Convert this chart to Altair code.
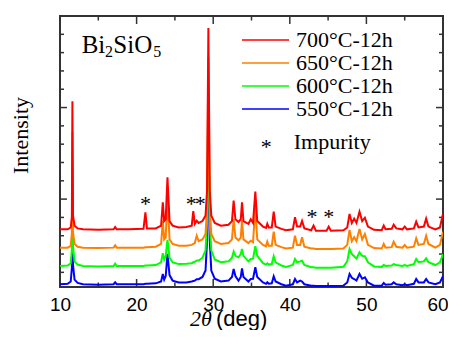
import altair as alt
import pandas as pd

# ---------------- data ----------------
two_theta = [10.0, 11.0, 11.4, 11.55, 11.62, 11.7, 11.9, 12.3, 13.0, 15.0, 17.0, 17.2, 17.4,
             19.0, 20.9, 21.15, 21.35, 22.5, 23.2, 23.42, 23.6, 23.8, 24.03, 24.3, 24.7, 25.5,
             26.5, 27.2, 27.4, 27.6, 27.85, 28.1, 28.6, 29.0, 29.2, 29.37, 29.55, 29.75, 30.2,
             31.0, 32.0, 32.45, 32.67, 32.9, 33.3, 33.6, 33.76, 33.95, 34.6, 34.9, 35.2, 35.5,
             35.75, 36.5, 36.9, 37.06, 37.25, 37.65, 37.9, 38.15, 38.9, 39.5, 40.4, 40.68, 40.95,
             41.35, 41.6, 41.9, 42.8, 43.1, 43.4, 44.8, 45.08, 45.35, 47.0, 47.5, 47.8, 48.1,
             48.4, 48.7, 49.1, 49.45, 49.8, 50.2, 51.0, 52.0, 52.26, 52.5, 53.3, 53.56, 53.9,
             54.7, 55.0, 55.3, 56.2, 56.5, 56.8, 57.5, 57.8, 58.1, 59.0, 59.6, 60.0]

i700 = [67, 67, 69, 80, 207, 82, 71, 68, 67, 66.5, 67, 69.5, 67,
        67, 67.5, 85.6, 68, 68, 71, 96.6, 76, 78, 123.9, 76, 71, 69,
        69.5, 71, 87, 73, 76.5, 74, 76, 82, 110, 287, 110, 82, 74,
        71, 72, 76, 98.3, 78, 75, 78, 96.6, 76, 73, 78, 74, 108.2,
        76, 70, 68.5, 73, 69, 69, 86.3, 70, 67.5, 66, 67, 80.2, 70,
        70, 76.1, 68, 66, 71, 65.5, 65.5, 70, 65.5, 66, 69, 83.8, 74,
        78.7, 74, 86.3, 76, 79.7, 70, 66.5, 66, 71, 67, 67.5, 72, 68,
        67, 70, 67, 68, 75.4, 69, 70, 78.7, 70, 67, 69, 84]

i650 = [47, 47, 49, 62, 173, 64, 51, 48, 47, 46.5, 47, 49.5, 47,
        47, 47, 47.5, 47.5, 48, 51, 76.5, 56, 58, 102, 56, 51, 49,
        49, 50, 51, 52, 60.1, 54, 56, 62, 90, 255, 90, 62, 54,
        51, 52, 56, 78.3, 58, 55, 58, 76.9, 56, 52, 54.6, 53, 91.1,
        56, 50, 48.5, 53.5, 49, 49, 64.4, 50, 47.5, 46, 47, 60.1, 50,
        50, 58.3, 48, 46, 46, 45.5, 45.5, 45.5, 45.5, 46, 50, 66.3, 54,
        58.3, 54, 67.4, 56, 61.9, 50, 46.5, 46, 51, 47, 47.5, 53.5, 48,
        47, 49.9, 47, 48, 57.2, 50, 51, 60.1, 51, 47, 50, 64.4]

i600 = [27, 27.5, 30, 45, 136, 48, 32, 28.5, 27, 26.5, 27, 29.5, 27,
        27, 27, 27.5, 27.5, 28, 31, 40.8, 34, 38, 55.4, 36, 31, 29,
        29.5, 30, 31, 31.5, 33, 33, 36, 44, 75, 218, 75, 44, 34,
        31, 32, 36, 42.6, 38, 36.4, 40, 45.5, 38, 32, 34.6, 35, 48.5,
        38, 30, 28.5, 29.9, 28.5, 29, 37.6, 31, 27.5, 26, 28, 34.6, 31,
        32, 32.7, 28, 25.5, 25.5, 25, 25, 25, 25, 26, 32, 45.5, 40,
        37.6, 35, 41.9, 38, 37.6, 31, 26.5, 26, 28, 27, 27.5, 29.1, 28,
        27, 28, 27, 29, 34.6, 31, 32, 35.4, 31, 28, 31, 40]

i550 = [7, 7.5, 10, 25, 77, 28, 12, 8.5, 7, 6.5, 7, 9, 7,
        7, 7, 7.5, 7.5, 8, 10, 18.2, 12, 16, 40.1, 17, 11, 9,
        9, 10, 10.5, 11, 12.5, 12.5, 15, 22, 55, 190, 55, 22, 13,
        10, 11, 15, 23.7, 16, 10.9, 15, 24.4, 15, 10, 12.7, 13, 25.5,
        15, 9, 7.5, 9.1, 7.5, 8, 15.7, 10, 7, 5.5, 7, 12.7, 9,
        10.9, 10, 7, 5.5, 5.5, 5, 5, 5, 5, 5.5, 9, 18.2, 14,
        12.7, 11, 18.2, 13, 14.6, 9, 5.5, 5.5, 8.4, 6.5, 7, 9.1, 7,
        6, 7, 6, 7.5, 12.7, 9, 9, 12.7, 9, 7, 9, 15.7]

series_names = ["700°C-12h", "650°C-12h", "600°C-12h", "550°C-12h"]
series_colors = ["#ff0000", "#ff8000", "#00ff00", "#0000ff"]
series_values = [i700, i650, i600, i550]

star_x = [21.15, 27.15, 28.3, 42.9, 45.1]
star_y = [100, 100, 100, 86, 86]

x_major = [10, 20, 30, 40, 50, 60]
x_minor = [15, 25, 35, 45, 55]
y_major = [100, 200, 300]
y_minor = [20, 40, 60, 80, 120, 140, 160, 180, 220, 240, 260, 280]

# ---------------- chart ----------------
W, H = 383, 271
SERIF = "Liberation Serif"
SANS = "Liberation Sans"

x_scale = alt.Scale(domain=[10, 60], nice=False, zero=False)
y_scale = alt.Scale(domain=[4, 300], nice=False, zero=False)
x_axis = alt.Axis(values=x_major, labelFont=SANS, labelFontSize=19, labelColor="black",
                  ticks=False, domain=False, grid=False, labelPadding=8, title=None,
                  labelFlush=False,
                  labelOffset=alt.condition("datum.value == 60", alt.value(-5.5), alt.value(0)))
y_axis = alt.Axis(labels=False, ticks=False, domain=False, grid=False, title="Intensity",
                  titleFont=SERIF, titleFontSize=22, titleFontWeight="normal", titleColor="black",
                  titleAngle=270, titleX=-33, titleY=119, titleAlign="center",
                  titleBaseline="alphabetic")
color_enc = alt.Color(
    "sample:N",
    scale=alt.Scale(domain=series_names, range=series_colors),
    legend=alt.Legend(orient="none", legendX=181, legendY=12.5, title=None,
                      symbolType="stroke", symbolSize=2209, symbolStrokeWidth=1.5,
                      clipHeight=23, rowPadding=0, padding=0, labelFont=SERIF,
                      labelFontSize=22, labelColor="black", labelOffset=6, labelLimit=0),
)

layers = []

# inward ticks
def xticks(vals, length):
    df = pd.DataFrame({"t": vals})
    bot = alt.Chart(df).mark_rule(color="#333", strokeWidth=1.5).encode(
        x=alt.X("t:Q", scale=x_scale, axis=x_axis), y=alt.value(H), y2=alt.value(H - length))
    top = alt.Chart(df).mark_rule(color="#333", strokeWidth=1.5).encode(
        x=alt.X("t:Q", scale=x_scale, axis=x_axis), y=alt.value(0), y2=alt.value(length))
    return [bot, top]

def yticks(vals, length):
    df = pd.DataFrame({"v": vals})
    left = alt.Chart(df).mark_rule(color="#333", strokeWidth=1.5).encode(
        y=alt.Y("v:Q", scale=y_scale, axis=y_axis), x=alt.value(0), x2=alt.value(length))
    right = alt.Chart(df).mark_rule(color="#333", strokeWidth=1.5).encode(
        y=alt.Y("v:Q", scale=y_scale, axis=y_axis), x=alt.value(W), x2=alt.value(W - length))
    return [left, right]

layers += xticks(x_major, 8) + xticks(x_minor, 4.5)
layers += yticks(y_major, 7) + yticks(y_minor, 4)

# traces: 550 drawn first, 700 on top
for name, vals in reversed(list(zip(series_names, series_values))):
    df = pd.DataFrame({"two_theta": two_theta, "intensity": vals, "sample": name})
    layers.append(
        alt.Chart(df).mark_line(strokeWidth=2, clip=True).encode(
            x=alt.X("two_theta:Q", scale=x_scale, axis=x_axis),
            y=alt.Y("intensity:Q", scale=y_scale, axis=y_axis),
            color=color_enc,
            order=alt.Order("two_theta:Q"),
        )
    )

# impurity stars on peaks
stars = pd.DataFrame({"x": star_x, "y": star_y, "s": ["*"] * len(star_x)})
layers.append(
    alt.Chart(stars).mark_text(font=SERIF, fontSize=22, baseline="middle", dy=5, color="black").encode(
        x=alt.X("x:Q", scale=x_scale, axis=x_axis),
        y=alt.Y("y:Q", scale=y_scale, axis=y_axis),
        text="s:N",
    )
)

def label(txt, x, y, size, font=SERIF, style="normal", align="left", baseline="alphabetic", dy=0):
    return alt.Chart(pd.DataFrame({"t": [txt]})).mark_text(
        font=font, fontSize=size, fontStyle=style, align=align, baseline=baseline,
        color="black", dy=dy).encode(x=alt.value(x), y=alt.value(y), text="t:N")

layers += [
    label("Bi", 21.7, 36.7, 25),
    label("2", 45, 40.7, 16),
    label("SiO", 53.3, 36.7, 25),
    label("5", 93.3, 40.7, 16),
    label("*", 206.3, 126, 22, align="center", baseline="middle", dy=5),
    label("Impurity", 233.7, 133.3, 22),
    label("2θ", 130, 309.5, 22, style="italic"),
    label("(deg)", 156, 309.5, 22, font=SANS),
]

chart = alt.layer(*layers).properties(
    width=W, height=H,
    padding={"left": 52, "top": 8, "right": 5, "bottom": 43},
    autosize=alt.AutoSizeParams(type="none"),
).configure_view(stroke="#333", strokeWidth=2)

chart.save("out.html", embed_options={"renderer": "svg", "actions": False})
